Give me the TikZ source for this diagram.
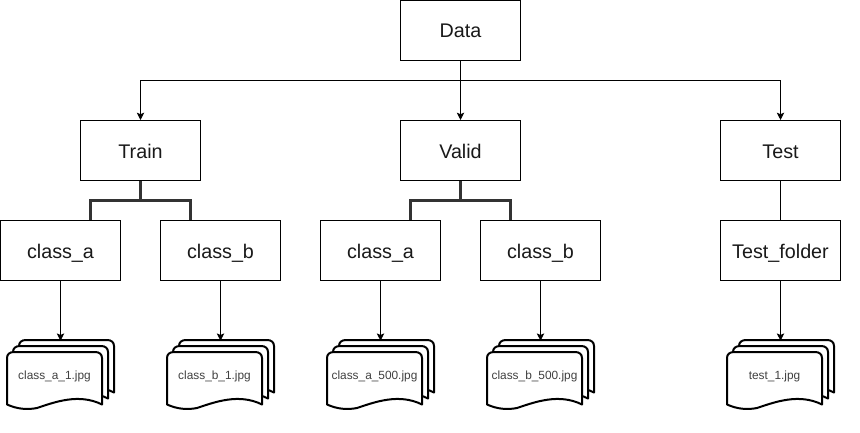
\documentclass[tikz,border=0pt]{standalone}
\usepackage{fontspec}
\setmainfont{Liberation Sans}
\usetikzlibrary{arrows.meta,calc}
\tikzset{
  x=0.75pt,y=-0.75pt,
  folder/.style={draw=black,line width=0.75pt,minimum width=90pt,minimum height=45pt,inner sep=0pt,text height=12.8pt,text depth=1.2pt,font=\fontsize{14.8}{17}\selectfont,text=black!90},
  flow/.style={draw=black,line width=0.75pt,-{Stealth[length=5.5pt,width=5.5pt,inset=1.2pt]}},
  plain/.style={draw=black,line width=0.75pt},
  branch/.style={draw=black!80,line width=1.7pt},
  sheet/.style={draw=black,fill=white,line width=1.5pt,line join=round},
  filegroup/.style={minimum width=80.25pt,minimum height=51pt,inner sep=0pt},
  filename/.style={inner sep=0pt,font=\fontsize{8.9}{11}\selectfont,text=black!75},
}
% one wavy page; #1,#2 = top-left corner in picture units
\newcommand{\onesheet}[2]{%
  \path[sheet] (#1,#2+52.5)
    -- (#1,#2+6) .. controls (#1,#2+2) and (#1+3,#2) .. (#1+7,#2)
    -- (#1+88,#2) .. controls (#1+92,#2) and (#1+95,#2+2) .. (#1+95,#2+6)
    -- (#1+95,#2+52.5)
    .. controls (#1+72,#2+41) and (#1+48,#2+50) .. (#1+30,#2+56)
    .. controls (#1+20,#2+58) and (#1+10,#2+57) .. (#1,#2+52.5) -- cycle;
}
\newcommand{\filestack}[3]{% centre x, node name, text
  \onesheet{#1-41.5}{340}
  \onesheet{#1-47.5}{346}
  \onesheet{#1-53.5}{352}
  \node[filegroup] (#2) at (#1,375) {};
  \node[filename] (#2t) at (#1-6,376.7) {#3};
}
\begin{document}
\begin{tikzpicture}
\useasboundingbox (0,0) rectangle (860,432);
\fill[white] (0,0) rectangle (860,432);
\node[folder] (data) at (460.5,30) {Data};
\node[folder] (train) at (140.5,150.5) {Train};
\node[folder] (valid) at (460.5,150.5) {Valid};
\node[folder] (test) at (780.5,150.5) {Test};
\node[folder] (a1) at (60.5,250.5) {class\_a};
\node[folder] (b1) at (220.5,250.5) {class\_b};
\node[folder] (a2) at (380.5,250.5) {class\_a};
\node[folder] (b2) at (540.5,250.5) {class\_b};
\node[folder] (tf) at (780.5,250.5) {Test\_folder};
\filestack{60.5}{f1}{class\_a\_1.jpg}
\filestack{220.5}{f2}{class\_b\_1.jpg}
\filestack{380.5}{f3}{class\_a\_500.jpg}
\filestack{540.5}{f4}{class\_b\_500.jpg}
\filestack{780.5}{f5}{test\_1.jpg}
\coordinate (hub) at (460.5,80);
\draw[flow] (data.south) -- (valid.north);
\draw[flow] (hub) -| (train.north);
\draw[flow] (hub) -| (test.north);
\draw[branch] (train.south) -- ++(0,19.5) coordinate (j1);
\draw[branch] ($(a1.north)+(30,0)$) |- (j1) -| ($(b1.north)+(-30,0)$);
\draw[branch] (valid.south) -- ++(0,19.5) coordinate (j2);
\draw[branch] ($(a2.north)+(30,0)$) |- (j2) -| ($(b2.north)+(-30,0)$);
\draw[plain] (test.south) -- (tf.north);
\draw[flow] (a1.south) -- (f1.north);
\draw[flow] (b1.south) -- (f2.north);
\draw[flow] (a2.south) -- (f3.north);
\draw[flow] (b2.south) -- (f4.north);
\draw[flow] (tf.south) -- (f5.north);
\end{tikzpicture}
\end{document}
